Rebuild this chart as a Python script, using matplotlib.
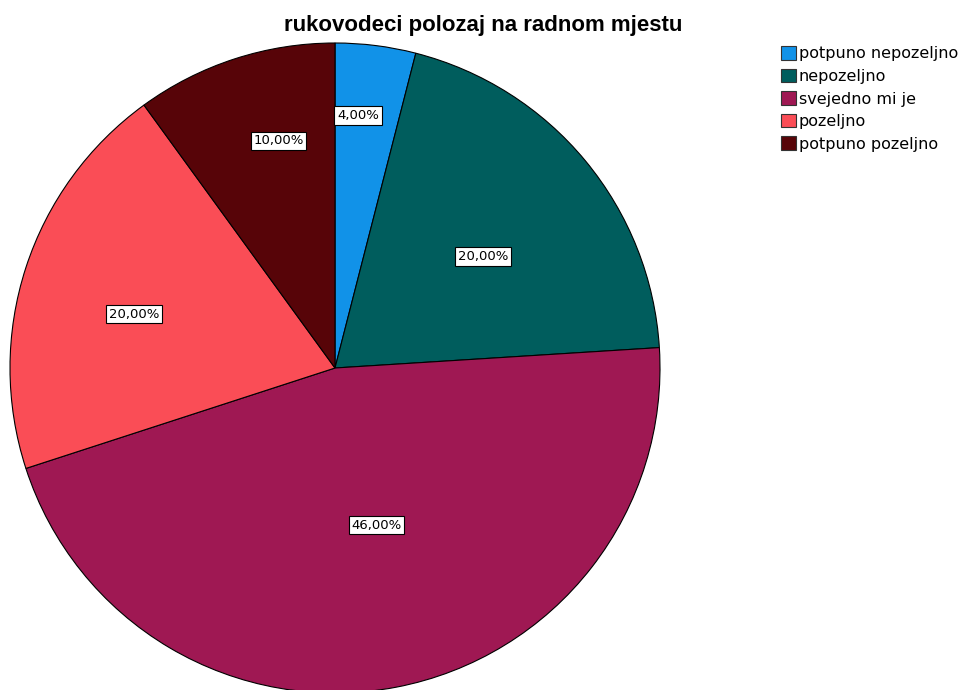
import numpy as np
import matplotlib
matplotlib.use("Agg")
import matplotlib.pyplot as plt
from matplotlib.patches import Patch

categories = ["potpuno nepozeljno", "nepozeljno", "svejedno mi je", "pozeljno", "potpuno pozeljno"]
percents = [4.0, 20.0, 46.0, 20.0, 10.0]
colors = ["#1192e8", "#005d5d", "#9f1853", "#fa4d56", "#570408"]
# where each percent label sits: fraction of radius, and small angle nudge (deg)
label_dist = [0.78, 0.57, 0.50, 0.64, 0.72]
label_nudge = [2.0, -2.6, 4.0, 3.0, -4.0]

W, H = 966, 690
fig = plt.figure(figsize=(W / 100, H / 100), dpi=100)

# pie centre (335, 368) px from top-left, radius 325 px
cx, cy, r = 335, 368, 325
ax = fig.add_axes([(cx - r) / W, (H - cy - r) / H, 2 * r / W, 2 * r / H])
wedges, _ = ax.pie(percents, colors=colors, startangle=90, counterclock=False,
                   radius=1.0, wedgeprops=dict(edgecolor="black", linewidth=0.8))
ax.set_xlim(-1, 1)
ax.set_ylim(-1, 1)
ax.set_aspect("equal")
ax.axis("off")

for w, p, d, n in zip(wedges, percents, label_dist, label_nudge):
    ang = np.deg2rad((w.theta1 + w.theta2) / 2 + n)
    s = ("%.2f%%" % p).replace(".", ",")
    ax.text(d * np.cos(ang), d * np.sin(ang), s, ha="center", va="center",
            fontsize=9.5, family="DejaVu Sans",
            bbox=dict(boxstyle="square,pad=0.2", facecolor="white", edgecolor="black", linewidth=0.8))

fig.text(0.5, 1 - 25 / H, "rukovodeci polozaj na radnom mjestu", ha="center", va="center",
         fontsize=16, fontweight="bold", family="Liberation Sans")

handles = [Patch(facecolor=c, edgecolor="#333333", linewidth=0.8) for c in colors]
fig.legend(handles, categories, loc="upper left", bbox_to_anchor=(781 / W, 1 - 46 / H),
           frameon=False, handlelength=0.95, handleheight=0.95,
           handletextpad=0.15, labelspacing=0.45, borderpad=0, borderaxespad=0,
           prop={"family": "DejaVu Sans", "size": 11.5})

fig.savefig("out.png", dpi=100)
